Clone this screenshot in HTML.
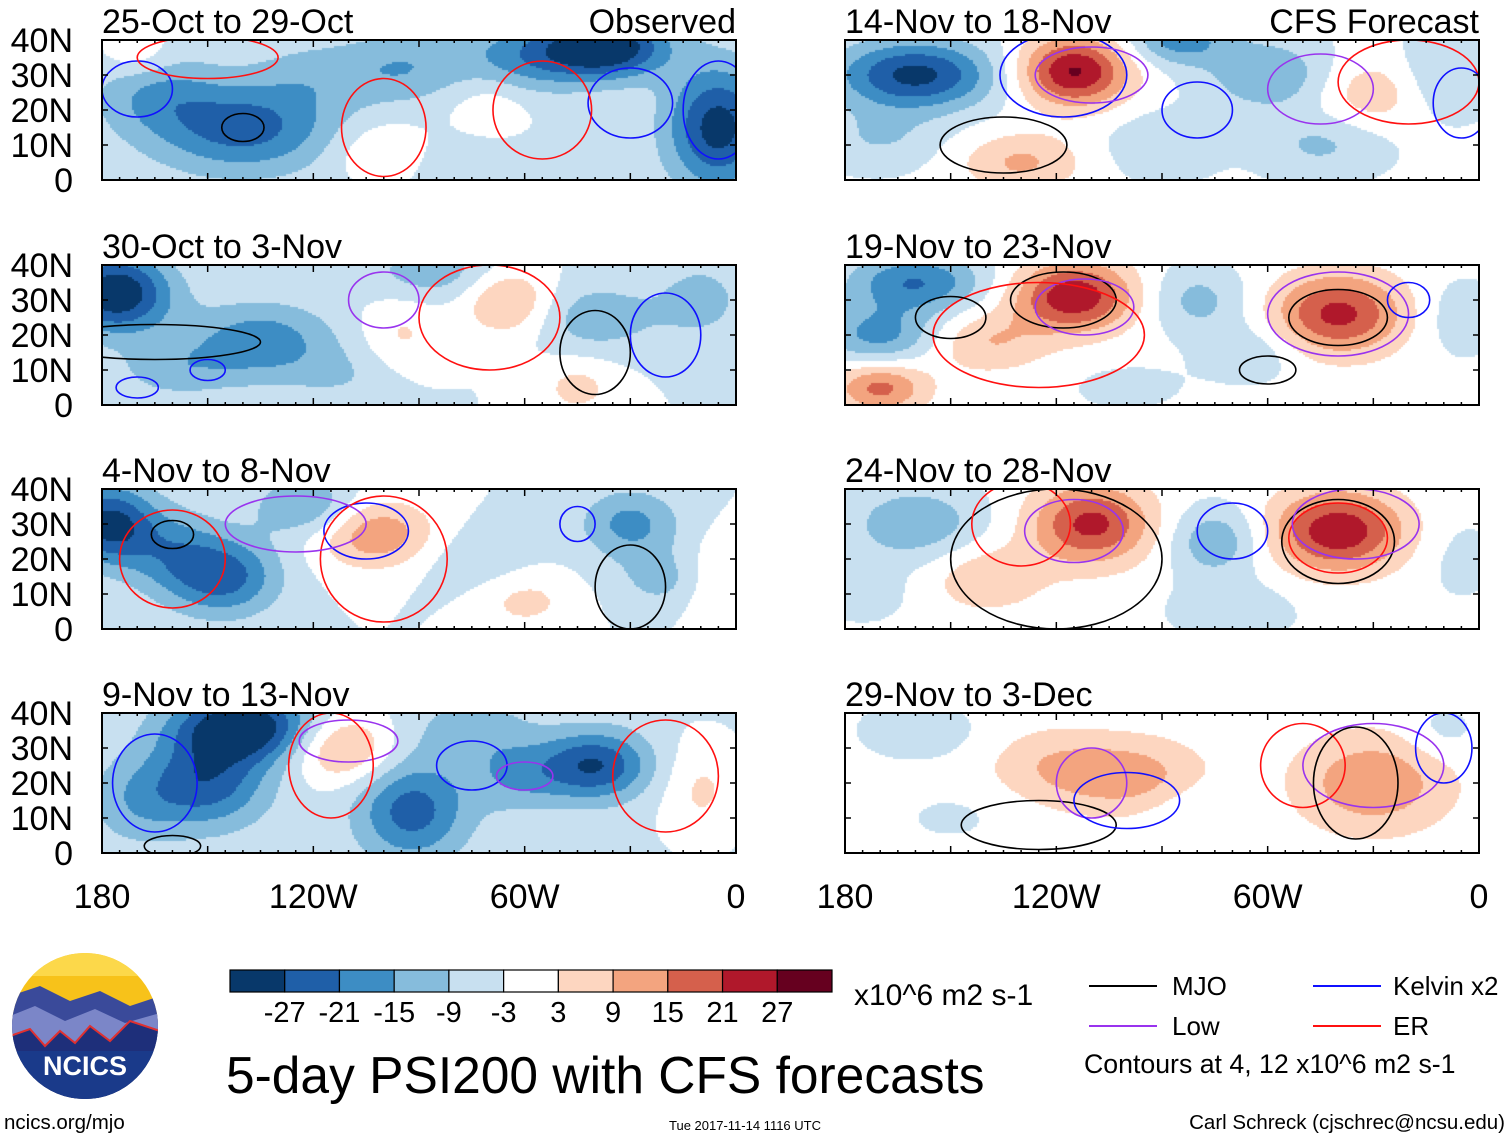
<!DOCTYPE html>
<html><head><meta charset="utf-8">
<style>
html,body{margin:0;padding:0;background:#fff;}
body{width:1510px;height:1141px;position:relative;overflow:hidden;font-family:"Liberation Sans",sans-serif;color:#000;}
.t{position:absolute;white-space:nowrap;line-height:1;}
</style></head>
<body>
<canvas id="field" width="1510" height="1141" style="position:absolute;left:0;top:0"></canvas>
<svg id="chart" width="1510" height="1141" style="position:absolute;left:0;top:0">
</svg>
<script>
// ---- data ----
const panelTitles = ["25-Oct to 29-Oct","30-Oct to 3-Nov","4-Nov to 8-Nov","9-Nov to 13-Nov","14-Nov to 18-Nov","19-Nov to 23-Nov","24-Nov to 28-Nov","29-Nov to 3-Dec"];
const levelBounds = [-27,-21,-15,-9,-3,3,9,15,21,27];
const levelColors = ["#08386a","#1f5fa8","#3d8dc4","#86bcdc","#c8e0f0","#ffffff","#fdd6c0","#f3a47f","#d5604c","#b0182b","#66001f"];
const colorbarLabels = ["-27","-21","-15","-9","-3","3","9","15","21","27"];
const lonTicks = [180,120,60,0];
const lonTickLabels = ["180","120W","60W","0"];
const latTicks = [40,30,20,10,0];
const latTickLabels = ["40N","30N","20N","10N","0"];
const panelOffset = [-4,-3,-3,-4,-2,-1,-1,0];
// blobs: [lonW, lat, amplitude, sigmaLon(deg), sigmaLat(deg)]
const blobs0 = [[140,15,-20,18,9],[37,38,-30,12,6],[5,15,-26,10,12],[60,35,-14,14,7],[95,32,-10,12,7],[165,25,-10,12,8],[100,8,8,10,6],[170,36,7,7,5],[120,30,-6,12,7],[75,5,-6,12,6],[70,20,6,8,8]];
const blobs1 = [[176,32,-30,11,8],[135,18,-16,15,8],[85,38,-10,14,6],[65,30,14,9,7],[40,25,-10,12,7],[10,30,-8,10,9],[160,10,-8,12,6],[45,5,8,8,6],[110,8,-5,12,6],[95,20,7,8,8]];
const blobs2 = [[178,30,-26,9,8],[160,22,-12,10,9],[145,15,-20,11,8],[122,35,-13,10,6],[102,27,17,12,7],[60,8,8,10,6],[30,30,-14,10,7],[20,14,-8,10,6],[5,12,8,7,9],[75,20,-5,12,7]];
const blobs3 = [[140,36,-30,14,7],[150,20,-20,12,9],[112,30,16,10,7],[92,12,-20,11,10],[40,25,-23,11,7],[62,22,-10,10,7],[10,18,8,8,10],[170,15,-9,10,9],[75,35,-8,12,7]];
const blobs4 = [[160,30,-27,16,7],[115,31,30,11,7],[130,5,12,12,6],[60,30,-13,12,7],[45,10,-8,12,6],[30,25,9,11,7],[10,30,-8,9,8],[90,10,-7,10,6],[85,40,-16,10,5],[170,12,-7,12,6]];
const blobs5 = [[160,35,-20,14,6],[170,20,-16,12,6],[115,31,27,12,7],[170,5,18,9,5],[140,18,10,12,6],[40,26,24,13,8],[80,30,-10,10,7],[65,15,-7,10,6],[100,5,-4,12,5],[5,25,-6,8,8]];
const blobs6 = [[160,30,-13,14,8],[110,30,24,12,8],[40,28,27,13,8],[75,25,-13,9,7],[70,5,-7,12,6],[140,15,9,12,7],[5,20,-4,8,9],[175,10,-5,10,6]];
const blobs7 = [[160,35,-8,12,6],[100,22,13,14,7],[30,20,15,14,9],[80,12,-4,10,6],[150,10,-4,12,6],[122,25,7,12,7],[10,35,-5,8,6]];
const panelBlobs = [blobs0,blobs1,blobs2,blobs3,blobs4,blobs5,blobs6,blobs7];
// contours: [lonW, lat, radiusLon(deg), radiusLat(deg), type] type 0=MJO,1=Kelvin,2=Low,3=ER
const cont0 = [[170,26,10,8,1],[140,15,6,4,0],[30,22,12,10,1],[55,20,14,14,3],[100,15,12,14,3],[150,35,20,6,3],[5,20,10,14,1]];
const cont1 = [[165,18,30,5,0],[150,10,5,3,1],[40,15,10,12,0],[70,25,20,15,3],[100,30,10,8,2],[170,5,6,3,1],[20,20,10,12,1]];
const cont2 = [[160,27,6,4,0],[105,28,12,8,1],[100,20,18,18,3],[30,12,10,12,0],[160,20,15,14,3],[45,30,5,5,1],[125,30,20,8,2]];
const cont3 = [[165,20,12,14,1],[110,32,14,6,2],[75,25,10,7,1],[60,22,8,4,2],[115,25,12,15,3],[20,22,15,16,3],[160,2,8,3,0]];
const cont4 = [[118,30,18,12,1],[110,30,16,8,2],[135,10,18,8,0],[45,26,15,10,2],[20,28,20,12,3],[5,22,8,10,1],[80,20,10,8,1]];
const cont5 = [[118,30,15,8,0],[112,28,14,8,2],[125,20,30,15,3],[40,25,14,8,0],[40,26,20,12,2],[60,10,8,4,0],[20,30,6,5,1],[150,25,10,6,0]];
const cont6 = [[115,28,14,9,2],[120,20,30,20,0],[40,25,16,12,0],[40,26,14,10,3],[35,30,18,10,2],[70,28,10,8,1],[130,30,14,12,3]];
const cont7 = [[125,8,22,7,0],[110,20,10,10,2],[100,15,15,8,1],[50,25,12,12,3],[30,25,20,12,2],[35,20,12,16,0],[10,30,8,10,1]];
const panelContours = [cont0,cont1,cont2,cont3,cont4,cont5,cont6,cont7];
const contourColors = ["#000000","#1010ff","#9933ee","#ff1010"];

// ---- layout ----
const NS="http://www.w3.org/2000/svg";
const svg=document.getElementById('chart');
const ctx=document.getElementById('field').getContext('2d');
const colX=[102,845], rowY=[40,265,489,713], PW=634, PH=140;
const FONT='Liberation Sans, sans-serif';
function el(tag,attrs,parent){const e=document.createElementNS(NS,tag);for(const k in attrs)e.setAttribute(k,attrs[k]);(parent||svg).appendChild(e);return e;}
function colorFor(v){let i=0;while(i<levelBounds.length&&v>levelBounds[i])i++;return levelColors[i];}

panelTitles.forEach((title,p)=>{
  const col=p<4?0:1,row=p%4;
  const x0=colX[col],y0=rowY[row];
  const xs=lonW=>x0+(180-lonW)/180*PW;
  const ys=lat=>y0+(40-lat)/40*PH;
  const g=el('g',{});
  
  
  const clipId='clip'+p;
  const cp=el('clipPath',{id:clipId},g);el('rect',{x:x0,y:y0,width:PW,height:PH},cp);
  const inner=el('g',{'clip-path':'url(#'+clipId+')'},g);
  // field on canvas
  const cs=2;
  const blobs=panelBlobs[p];
  for(let cy=0;cy<PH;cy+=cs){
    for(let cx=0;cx<PW;cx+=cs){
      const lon=180-(cx+cs/2)/PW*180, lat=40-(cy+cs/2)/PH*40;
      let v=panelOffset[p];
      for(const b of blobs){const dx=(lon-b[0])/b[3],dy=(lat-b[1])/b[4];v+=b[2]*Math.exp(-(dx*dx+dy*dy)/2);}
      const c=colorFor(v);
      if(c!=="#ffffff"){ctx.fillStyle=c;ctx.fillRect(x0+cx,y0+cy,cs,cs);}
    }
  }
  // contours
  panelContours[p].forEach(c=>{
    const e=el('ellipse',{cx:xs(c[0]),cy:ys(c[1]),rx:c[2]/180*PW,ry:c[3]/40*PH,fill:'none',stroke:contourColors[c[4]],'stroke-width':1.6},inner);
    
    
  });
  // frame
  el('rect',{x:x0,y:y0,width:PW,height:PH,fill:'none',stroke:'#000','stroke-width':2},g);
  // ticks
  for(let lw=180;lw>=0;lw-=5){
    const x=xs(lw),len=lw%30===0?7:3;
    el('line',{x1:x,y1:y0,x2:x,y2:y0+len,stroke:'#000','stroke-width':1.5},g);
    el('line',{x1:x,y1:y0+PH,x2:x,y2:y0+PH-len,stroke:'#000','stroke-width':1.5},g);
  }
  latTicks.forEach(lt=>{const y=ys(lt);el('line',{x1:x0,y1:y,x2:x0+6,y2:y,stroke:'#000','stroke-width':1.5},g);el('line',{x1:x0+PW,y1:y,x2:x0+PW-6,y2:y,stroke:'#000','stroke-width':1.5},g);});
  // title
  const tt=el('text',{x:x0,y:y0-7,'font-size':34,'font-family':FONT},g);tt.textContent=title;
  
  
  if(row===0){
    const rt=el('text',{x:x0+PW,y:y0-7,'font-size':34,'text-anchor':'end','font-family':FONT},g);
    rt.textContent=col===0?'Observed':'CFS Forecast';
    
    
  }
  if(col===0){
    latTicks.forEach((lt,i)=>{const t=el('text',{x:73,y:ys(lt)+12,'font-size':34,'text-anchor':'end','font-family':FONT},g);t.textContent=latTickLabels[i];
      
      });
  }
  if(row===3){
    lonTicks.forEach((lw,i)=>{const t=el('text',{x:xs(lw),y:908,'font-size':34,'text-anchor':'middle','font-family':FONT},g);t.textContent=lonTickLabels[i];
      
      });
  }
});

// colorbar
const cb=el('g',{});


const cbX=230,cbW=602,cbY=970,cbH=22,bw=cbW/levelColors.length;
levelColors.forEach((c,i)=>{el('rect',{x:cbX+i*bw,y:cbY,width:bw,height:cbH,fill:c,stroke:'#000','stroke-width':1.2},cb);});
colorbarLabels.forEach((l,i)=>{const t=el('text',{x:cbX+(i+1)*bw,y:1022,'font-size':29,'text-anchor':'middle','font-family':FONT},cb);t.textContent=l;
  
  });
</script>

<div class="t" style="left:854px;top:981px;font-size:30px">x10^6 m2 s-1</div>
<div class="t" style="left:226px;top:1050px;font-size:51.5px">5-day PSI200 with CFS forecasts</div>

<div>
<div style="position:absolute;left:1089px;top:985px;width:68px;height:2px;background:#000"></div>
<div class="t" style="left:1172px;top:973px;font-size:26px">MJO</div>
<div style="position:absolute;left:1089px;top:1025px;width:68px;height:2px;background:#9933ee"></div>
<div class="t" style="left:1172px;top:1013px;font-size:26px">Low</div>
<div style="position:absolute;left:1313px;top:985px;width:68px;height:2px;background:#1010ff"></div>
<div class="t" style="left:1393px;top:973px;font-size:26px">Kelvin x2</div>
<div style="position:absolute;left:1313px;top:1025px;width:68px;height:2px;background:#ff1010"></div>
<div class="t" style="left:1393px;top:1013px;font-size:26px">ER</div>
<div class="t" style="left:1084px;top:1051px;font-size:26.7px">Contours at 4, 12 x10^6 m2 s-1</div>
</div>

<svg width="150" height="150" style="position:absolute;left:10px;top:951px">
<defs><clipPath id="lc"><circle cx="75" cy="75" r="73"/></clipPath></defs>
<g clip-path="url(#lc)">
<rect width="150" height="150" fill="#f7c21a"/>
<rect y="0" width="150" height="25" fill="#fcd84a"/>
<path d="M0 45 L30 35 L60 50 L90 40 L120 55 L150 45 L150 150 L0 150Z" fill="#3a4a9a"/>
<path d="M0 65 L25 55 L55 70 L85 58 L115 72 L150 62 L150 150 L0 150Z" fill="#7b86c8"/>
<path d="M0 85 L20 78 L35 95 L50 80 L65 92 L80 75 L100 90 L120 70 L150 80 L150 150 L0 150Z" fill="#1e2f7a" stroke="#e03030" stroke-width="2"/>
<rect y="100" width="150" height="50" fill="#1a3a8a"/>
</g>
<text x="75" y="124" font-size="27" font-weight="bold" fill="#fff" text-anchor="middle" font-family="Liberation Sans, sans-serif">NCICS</text>
</svg>

<div class="t" style="left:4px;top:1113px;font-size:20.5px">ncics.org/mjo</div>
<div class="t" style="left:669px;top:1119px;font-size:13px">Tue 2017-11-14 1116 UTC</div>
<div class="t" style="right:5px;top:1113px;font-size:20.5px">Carl Schreck (cjschrec@ncsu.edu)</div>
</body></html>
